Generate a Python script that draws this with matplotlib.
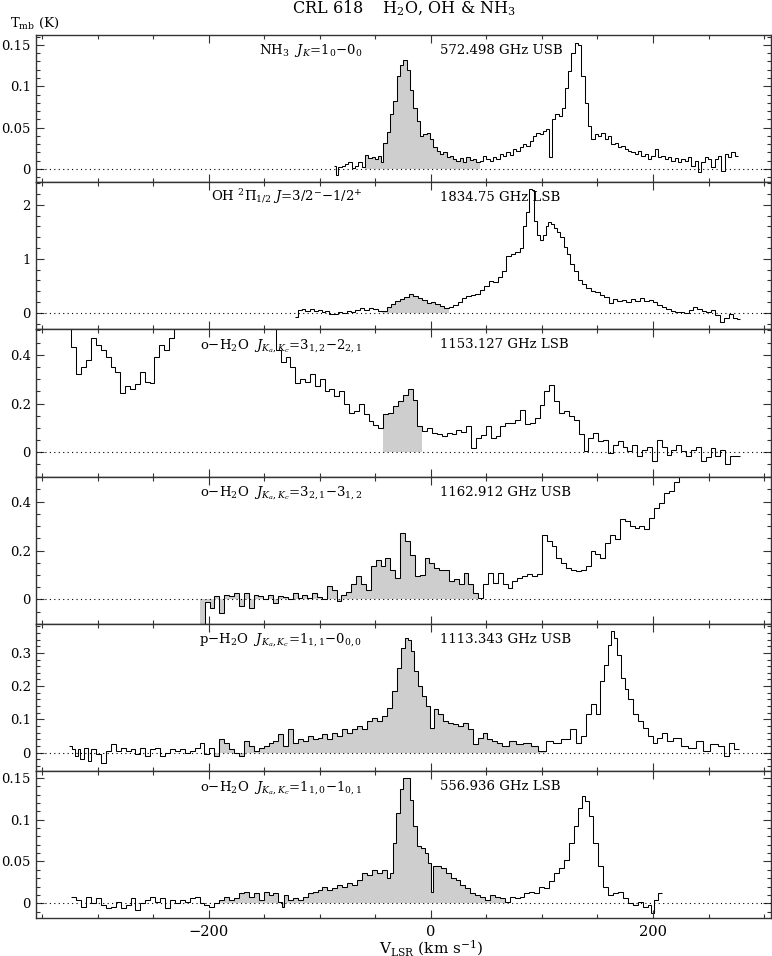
import matplotlib.pyplot as plt
import numpy as np
from matplotlib.ticker import MultipleLocator, FormatStrFormatter

plt.rcParams['font.family'] = ['DejaVu Serif']
plt.rcParams['mathtext.fontset'] = 'dejavuserif'

# ---- spectra (channel centre velocity in km/s, Tmb in K) ----
v_nh3 = [-86.5, -85, -82, -79, -76, -73, -70, -67, -64, -61, -58, -55, -52, -49, -46, -44,
         -41.5, -38.5, -35.5, -32.5, -29.5, -26.5, -23, -20.5, -17.5, -14.5, -11.5, -8.5, -5.5,
         -2.5, 0.5, 3.5, 6.5, 9.5, 12.5, 15.5, 18.5, 21.5, 24.5, 27.5, 30.5, 33.5, 36.5, 39.5,
         42.5, 45.5, 48.5, 51.5, 54.5, 57.5, 60.5, 63.5, 66.5, 69.5, 72.5, 75.5, 78.5, 81.5,
         84.5, 87.5, 90.5, 93.5, 96.5, 99.5, 102.5, 105.5, 108, 110.5, 113.5, 116.5, 119.5,
         122, 125, 128, 131, 134, 137, 140, 143, 146, 149, 152, 155, 158, 161, 164, 167, 170,
         173, 176, 179, 182, 185, 188, 191, 194, 197, 200, 203, 206, 209, 212, 215, 218, 221,
         224, 227, 230, 233, 236, 239, 242, 245, 248, 251, 254, 257, 260, 263, 266, 269, 272, 275]
t_nh3 = [0.004, -0.007, 0.002, 0.004, 0.006, 0.008, 0.001, 0.004, 0.008, 0.003, 0.017, 0.013,
         0.015, 0.012, 0.016, 0.008, 0.032, 0.045, 0.066, 0.082, 0.112, 0.126, 0.132, 0.12,
         0.096, 0.074, 0.058, 0.040, 0.042, 0.044, 0.036, 0.026, 0.022, 0.018, 0.020, 0.014,
         0.016, 0.012, 0.010, 0.013, 0.009, 0.014, 0.011, 0.012, 0.008, 0.010, 0.016, 0.012,
         0.010, 0.014, 0.012, 0.018, 0.016, 0.020, 0.017, 0.024, 0.022, 0.026, 0.030, 0.028,
         0.034, 0.040, 0.044, 0.042, 0.046, 0.048, 0.015, 0.060, 0.066, 0.064, 0.074, 0.098,
         0.118, 0.140, 0.152, 0.150, 0.112, 0.080, 0.052, 0.036, 0.042, 0.040, 0.044, 0.036,
         0.040, 0.030, 0.032, 0.026, 0.028, 0.024, 0.022, 0.020, 0.018, 0.022, 0.016, 0.018,
         0.012, 0.016, 0.024, 0.014, 0.016, 0.012, 0.014, 0.010, 0.013, 0.009, 0.012, 0.010,
         0.014, 0.004, 0.010, -0.004, 0.008, 0.014, 0.012, 0.003, 0.012, 0.016, -0.002, 0.018,
         0.014, 0.020, 0.016]

v_oh = [-121, -118, -115, -111, -107, -104, -100, -97, -93, -90, -86, -82, -78, -74, -70, -66,
        -62, -58, -54, -50, -46, -42, -38, -34, -30, -26, -22, -18, -14, -10, -6, -2, 2, 6, 10,
        14, 18, 22, 26, 30, 34, 38, 42, 46, 50, 54, 58, 62, 66, 70, 74, 78, 82, 84.5, 87, 89.5,
        92, 94.5, 97, 99.5, 102, 104.5, 107, 109.5, 112, 115, 118, 121, 124, 127, 130, 134, 138,
        142, 146, 150, 154, 158, 162, 166, 170, 174, 178, 182, 186, 190, 194, 198, 202, 206,
        210, 214, 218, 222, 226, 230, 234, 238, 242, 246, 250, 254, 258, 262, 266, 270, 274, 277]
t_oh = [-0.08, 0.05, 0.06, 0.04, 0.06, 0.03, 0.05, 0.01, 0.03, -0.02, -0.03, 0.01, 0.00, 0.03,
        0.02, 0.05, 0.08, 0.05, 0.09, 0.06, 0.04, 0.03, 0.10, 0.17, 0.22, 0.26, 0.30, 0.34, 0.31,
        0.28, 0.24, 0.18, 0.19, 0.16, 0.13, 0.08, 0.10, 0.15, 0.19, 0.27, 0.31, 0.33, 0.35, 0.43,
        0.50, 0.59, 0.57, 0.66, 0.78, 1.06, 1.08, 1.12, 1.20, 1.61, 1.86, 2.30, 2.28, 1.70, 1.45,
        1.34, 1.45, 1.61, 1.68, 1.65, 1.58, 1.50, 1.40, 1.22, 1.08, 0.90, 0.78, 0.60, 0.54, 0.46,
        0.40, 0.38, 0.32, 0.30, 0.18, 0.26, 0.22, 0.24, 0.20, 0.25, 0.21, 0.27, 0.22, 0.24, 0.19,
        0.14, 0.10, 0.07, 0.03, 0.01, 0.02, -0.01, 0.05, 0.10, 0.06, 0.04, 0.02, 0.05, -0.05,
        -0.18, -0.10, -0.02, -0.10, -0.12]

v_h2o_1153 = [-326, -321.6, -317.2, -312.8, -308.4, -304, -299.6, -295.2, -290.8, -286.4, -282,
              -277.6, -273.2, -268.8, -264.4, -260, -255.6, -251.2, -246.8, -242.4, -238, -233.6,
              -229.2, -142, -137.6, -133.2, -128.8, -124.4, -120, -115.6, -111.2, -106.8, -102.4,
              -98, -93.6, -89.2, -84.8, -80.4, -76, -71.6, -67.2, -62.8, -58.4, -54, -49.6, -45.2,
              -40.8, -36.4, -32, -27.6, -23.2, -18.8, -14.4, -10, -5.6, -1.2, 3.2, 7.6, 12, 16.4,
              20.8, 25.2, 29.6, 34, 38.4, 42.8, 47.2, 51.6, 56, 60.4, 64.8, 69.2, 73.6, 78, 82.4,
              86.8, 91.2, 95.6, 100, 104.4, 108.8, 113.2, 117.6, 122, 126.4, 130.8, 135.2, 139.6,
              144, 148.4, 152.8, 157.2, 161.6, 166, 170.4, 174.8, 179.2, 183.6, 188, 192.4, 196.8,
              201.2, 205.6, 210, 214.4, 218.8, 223.2, 227.6, 232, 236.4, 240.8, 245.2, 249.6, 254,
              258.4, 262.8, 267.2, 271.6, 276]
t_h2o_1153 = [0.62, 0.43, 0.32, 0.35, 0.38, 0.47, 0.44, 0.42, 0.39, 0.35, 0.33, 0.245, 0.27,
              0.26, 0.28, 0.33, 0.29, 0.285, 0.39, 0.44, 0.42, 0.47, 0.60, 0.60, 0.42, 0.37, 0.39,
              0.35, 0.285, 0.30, 0.29, 0.32, 0.27, 0.30, 0.25, 0.26, 0.23, 0.25, 0.20, 0.16, 0.17,
              0.20, 0.155, 0.13, 0.11, 0.10, 0.155, 0.16, 0.19, 0.21, 0.237, 0.26, 0.216, 0.107,
              0.086, 0.10, 0.08, 0.075, 0.066, 0.08, 0.075, 0.093, 0.085, 0.107, 0.018, 0.059,
              0.07, 0.107, 0.059, 0.065, 0.107, 0.12, 0.12, 0.134, 0.175, 0.114, 0.12, 0.14, 0.196,
              0.25, 0.275, 0.21, 0.16, 0.168, 0.15, 0.134, 0.073, 0.004, 0.059, 0.08, 0.045, 0.05,
              -0.003, 0.03, 0.045, 0.02, 0.004, 0.03, -0.016, 0.01, 0.02, -0.037, 0.052, 0.02,
              -0.01, 0.011, 0.03, 0.004, -0.016, 0.011, 0.02, -0.037, -0.02, 0.018, -0.016, 0.011,
              -0.05, -0.016, -0.016]

v_h2o_1162 = [-206, -201.6, -197.2, -192.8, -188.4, -184, -179.6, -175.2, -170.8, -166.4, -162,
              -157.6, -153.2, -148.8, -144.4, -140, -135.6, -131.2, -126.8, -122.4, -118, -113.6,
              -109.2, -104.8, -100.4, -96, -91.6, -87.2, -82.8, -78.4, -74, -69.6, -65.2, -60.8,
              -56.4, -52, -47.6, -43.2, -38.8, -34.4, -30, -25.6, -21.2, -16.8, -12.4, -8, -3.6,
              0.8, 5.2, 9.6, 14, 18.4, 22.8, 27.2, 31.6, 36, 40.4, 44.8, 49.2, 53.6, 58, 62.4, 66.8,
              71.2, 75.6, 80, 84.4, 88.8, 93.2, 97.6, 102, 106.4, 110.8, 115.2, 119.6, 124, 128.4,
              132.8, 137.2, 141.6, 146, 150.4, 154.8, 159.2, 163.6, 168, 172.4, 176.8, 181.2, 185.6,
              190, 194.4, 198.8, 203.2, 207.6, 212, 216.4, 220.8, 225.2, 229.6]
t_h2o_1162 = [-0.13, -0.01, -0.034, 0.014, -0.054, 0.02, 0.014, 0.027, -0.027, 0.027, -0.034,
              0.02, 0.014, 0.0, 0.02, -0.014, 0.014, 0.01, 0.0, 0.027, 0.007, 0.02, 0.007, 0.027,
              0.01, 0.0, 0.054, 0.04, -0.007, 0.02, 0.03, 0.061, 0.095, 0.061, 0.04, 0.136, 0.163,
              0.136, 0.17, 0.122, 0.088, 0.27, 0.24, 0.18, 0.095, 0.10, 0.17, 0.15, 0.13, 0.122,
              0.12, 0.075, 0.082, 0.061, 0.109, 0.061, 0.027, 0.007, 0.061, 0.109, 0.068, 0.109,
              0.061, 0.048, 0.075, 0.088, 0.095, 0.102, 0.095, 0.102, 0.265, 0.238, 0.218, 0.17,
              0.15, 0.13, 0.122, 0.116, 0.12, 0.136, 0.197, 0.184, 0.17, 0.231, 0.265, 0.245, 0.327,
              0.32, 0.30, 0.293, 0.30, 0.286, 0.333, 0.374, 0.395, 0.435, 0.442, 0.48, 0.55, 0.60]

v_h2o_1113 = [-324.7, -321.6, -319, -317, -314.6, -310.6, -308, -304, -299.5, -295, -290.6, -286,
              -281.7, -277, -272.8, -268.4, -264, -259.5, -255, -250.7, -246, -241.8, -237.4, -233,
              -228.5, -224, -219.6, -215, -210.7, -206, -202, -197.4, -193, -188.6, -184, -179.7,
              -175, -170.8, -166.4, -162, -157.5, -153, -148.6, -144, -139.7, -135.3, -131, -126.5,
              -122, -117.6, -113, -108.7, -104, -100, -95.4, -91, -86.5, -82, -77.6, -73.2, -68.8,
              -64.3, -60, -55.5, -51, -46.6, -42, -37.7, -33, -29, -25.3, -22, -19, -16.4, -13.3,
              -10.2, -6.7, -2.2, 1.3, 4.4, 8.9, 13.3, 17.7, 22.2, 26.6, 31, 35.5, 40, 44.4, 48.8,
              53, 57.7, 62, 66.5, 73.2, 80, 86.5, 93, 100, 106.5, 113, 122, 128.7, 133, 137.5, 142,
              146.4, 151, 154, 157.5, 160.6, 163, 166.4, 169.5, 173, 176, 179.7, 184, 188.5, 193,
              197.4, 202, 206, 210.7, 215, 221.8, 228.5, 235, 241.8, 248.5, 255, 261.8, 266,
              270.6, 275]
t_h2o_1113 = [0.02, 0.01, -0.01, 0.01, -0.02, 0.015, -0.025, 0.01, -0.005, -0.03, 0.005, 0.025,
              0.005, 0.015, 0.005, 0.01, -0.005, 0.015, -0.01, 0.01, 0.015, -0.01, 0.0, 0.01,
              0.005, 0.01, 0.0, 0.005, 0.015, 0.03, -0.005, 0.015, -0.01, 0.04, 0.03, 0.01, 0.0,
              -0.01, 0.035, 0.02, 0.005, 0.015, 0.02, 0.03, 0.035, 0.055, 0.02, 0.07, 0.03, 0.04,
              0.035, 0.05, 0.04, 0.045, 0.055, 0.04, 0.06, 0.05, 0.07, 0.06, 0.07, 0.08, 0.07,
              0.095, 0.105, 0.095, 0.11, 0.135, 0.185, 0.255, 0.315, 0.345, 0.34, 0.305, 0.245,
              0.20, 0.17, 0.14, 0.075, 0.13, 0.115, 0.095, 0.09, 0.085, 0.08, 0.09, 0.07, 0.025,
              0.045, 0.06, 0.04, 0.035, 0.03, 0.02, 0.035, 0.025, 0.03, 0.02, 0.005, 0.035, 0.03,
              0.04, 0.07, 0.03, 0.05, 0.115, 0.145, 0.115, 0.215, 0.265, 0.325, 0.365, 0.345, 0.295,
              0.225, 0.19, 0.16, 0.115, 0.095, 0.075, 0.05, 0.03, 0.045, 0.06, 0.035, 0.045, 0.02,
              0.015, 0.035, 0.005, 0.025, 0.02, -0.01, 0.03, 0.01]

v_h2o_557 = [-321.6, -317, -312.8, -308, -304, -299.5, -295, -290.6, -286, -281.7, -277, -272.8,
             -268.4, -264, -259.5, -255, -250.7, -246, -241.8, -237.4, -233, -228.5, -224, -219.6,
             -215, -210.7, -206, -202, -197.4, -193, -188.6, -184, -179.7, -175, -170.8, -166.4,
             -162, -157.5, -153, -148.6, -144, -139.7, -135.3, -133, -131, -126.5, -122, -117.6,
             -113, -108.7, -104, -100, -95.4, -91, -86.5, -82, -77.6, -73.2, -68.8, -64.3, -60,
             -55.5, -51, -46.6, -42, -37.7, -35.5, -33, -29.7, -26.6, -23.5, -20, -17.7, -14.6,
             -11, -7.5, -4, -1.3, 1.3, 3, 6.7, 11, 15.5, 20, 24.4, 28.8, 33, 37.7, 42, 46.6, 51,
             55.5, 60, 64.3, 68.8, 73, 77.6, 82, 86.5, 91, 95.4, 100, 104, 108.7, 113, 117.6, 122,
             126.4, 131, 134.4, 137.5, 140.6, 144, 148.6, 153, 157.5, 162, 166.4, 171, 175, 179.7,
             184, 188.6, 193, 197.4, 199.6, 202, 206.3]
t_h2o_557 = [0.008, 0.004, -0.004, 0.008, 0.0, 0.006, -0.002, -0.006, -0.004, 0.002, -0.006,
             -0.002, 0.006, -0.008, 0.0, 0.004, 0.008, 0.002, 0.006, -0.006, 0.004, 0.0, 0.004,
             0.002, 0.006, 0.008, 0.0, -0.002, -0.004, 0.0, 0.004, 0.008, 0.004, 0.006, 0.012,
             0.014, 0.008, 0.012, 0.004, 0.014, 0.01, 0.012, 0.002, -0.004, 0.01, 0.004, 0.006,
             0.004, 0.008, 0.012, 0.014, 0.016, 0.02, 0.016, 0.018, 0.022, 0.02, 0.024, 0.022,
             0.028, 0.036, 0.034, 0.04, 0.036, 0.04, 0.03, 0.036, 0.072, 0.108, 0.136, 0.15, 0.15,
             0.124, 0.092, 0.068, 0.066, 0.06, 0.048, 0.014, 0.044, 0.045, 0.042, 0.036, 0.03,
             0.028, 0.022, 0.018, 0.012, 0.01, 0.008, 0.004, 0.01, 0.008, 0.006, 0.002, 0.008,
             0.006, 0.008, 0.012, 0.014, 0.012, 0.02, 0.018, 0.026, 0.036, 0.042, 0.052, 0.072,
             0.092, 0.114, 0.128, 0.122, 0.104, 0.072, 0.044, 0.02, 0.01, 0.012, 0.014, 0.006, 0.0,
             -0.002, 0.002, -0.004, -0.002, -0.012, 0.004, 0.012]

# panel order, top to bottom
spectra = [(v_nh3, t_nh3), (v_oh, t_oh), (v_h2o_1153, t_h2o_1153),
           (v_h2o_1162, t_h2o_1162), (v_h2o_1113, t_h2o_1113), (v_h2o_557, t_h2o_557)]
shade = [(-58, 45), (-42, 15), (-41, -7), (-207, 47), (-193, 102), (-191, 69)]
lines = [r'NH$_3$  $J_K$=1$_0$$-$0$_0$',
         r'OH $^2\Pi_{1/2}$ $J$=3/2$^{-}$$-$1/2$^{+}$',
         r'o$-$H$_2$O  $J_{K_a,K_c}$=3$_{1,2}$$-$2$_{2,1}$',
         r'o$-$H$_2$O  $J_{K_a,K_c}$=3$_{2,1}$$-$3$_{1,2}$',
         r'p$-$H$_2$O  $J_{K_a,K_c}$=1$_{1,1}$$-$0$_{0,0}$',
         r'o$-$H$_2$O  $J_{K_a,K_c}$=1$_{1,0}$$-$1$_{0,1}$']
freqs = ['572.498 GHz USB', '1834.75 GHz LSB', '1153.127 GHz LSB',
         '1162.912 GHz USB', '1113.343 GHz USB', '556.936 GHz LSB']
ylims = [(-0.016, 0.162), (-0.31, 2.42), (-0.1, 0.504), (-0.1, 0.502), (-0.055, 0.387), (-0.018, 0.158)]
ymajor = [0.05, 1, 0.2, 0.2, 0.1, 0.05]
yminor = [0.01, 0.2, 0.05, 0.05, 0.02, 0.01]

W, H = 772, 956
fig = plt.figure(figsize=(W / 100, H / 100), dpi=100)

left, right = 35.7 / W, 770.7 / W
top_px, bot_px = 35.0, 918.3
ph = (bot_px - top_px) / 6

for i in range(6):
    ax = fig.add_axes([left, 1 - (top_px + (i + 1) * ph) / H, right - left, ph / H])
    v = np.array(spectra[i][0], dtype=float)
    t = np.array(spectra[i][1], dtype=float)
    mids = (v[1:] + v[:-1]) / 2
    edges = np.concatenate([[v[0] - (mids[0] - v[0])], mids, [v[-1] + (v[-1] - mids[-1])]])

    lo, hi = shade[i]
    sel = np.where((v >= lo) & (v <= hi))[0]
    ax.stairs(t[sel], edges[sel[0]:sel[-1] + 2], baseline=0, fill=True,
              color='#cecece', lw=0)
    ax.stairs(t, edges, baseline=None, color='black', lw=0.75)
    ax.axhline(0, color='black', lw=0.8, ls=(0, (1, 3)))

    ax.set_xlim(-356, 306)
    ax.set_ylim(*ylims[i])
    ax.xaxis.set_major_locator(MultipleLocator(200))
    ax.xaxis.set_minor_locator(MultipleLocator(50))
    ax.yaxis.set_major_locator(MultipleLocator(ymajor[i]))
    ax.yaxis.set_minor_locator(MultipleLocator(yminor[i]))
    ax.yaxis.set_major_formatter(FormatStrFormatter('%g'))
    ax.tick_params(which='both', direction='in', top=True, right=True,
                   width=0.8, color='#333333')
    ax.tick_params(which='major', length=6)
    ax.tick_params(which='minor', length=3)
    ax.tick_params(axis='y', which='major', pad=3.5, labelsize=9.5)
    ax.tick_params(axis='x', which='major', pad=5, labelsize=10.5)
    if i < 5:
        ax.tick_params(axis='x', labelbottom=False)
    for s in ax.spines.values():
        s.set_linewidth(1.0)
        s.set_color('#333333')

    ax.text(0.444, 0.871, lines[i], transform=ax.transAxes, ha='right', va='baseline',
            fontsize=9.5)
    ax.text(0.550, 0.871, freqs[i], transform=ax.transAxes, ha='left', va='baseline',
            fontsize=9.5)

fig.text(404 / W, 1 - 8 / H, r'CRL 618    H$_2$O, OH & NH$_3$', ha='center', va='center',
         fontsize=11.5)
fig.text(10 / W, 1 - 23 / H, r'T$_{\rm mb}$ (K)', ha='left', va='center', fontsize=9.5)
fig.text(431 / W, 1 - 953 / H, r'V$_{\rm LSR}$ (km s$^{-1}$)', ha='center', va='baseline',
         fontsize=11)

fig.savefig('out.png', dpi=100)
